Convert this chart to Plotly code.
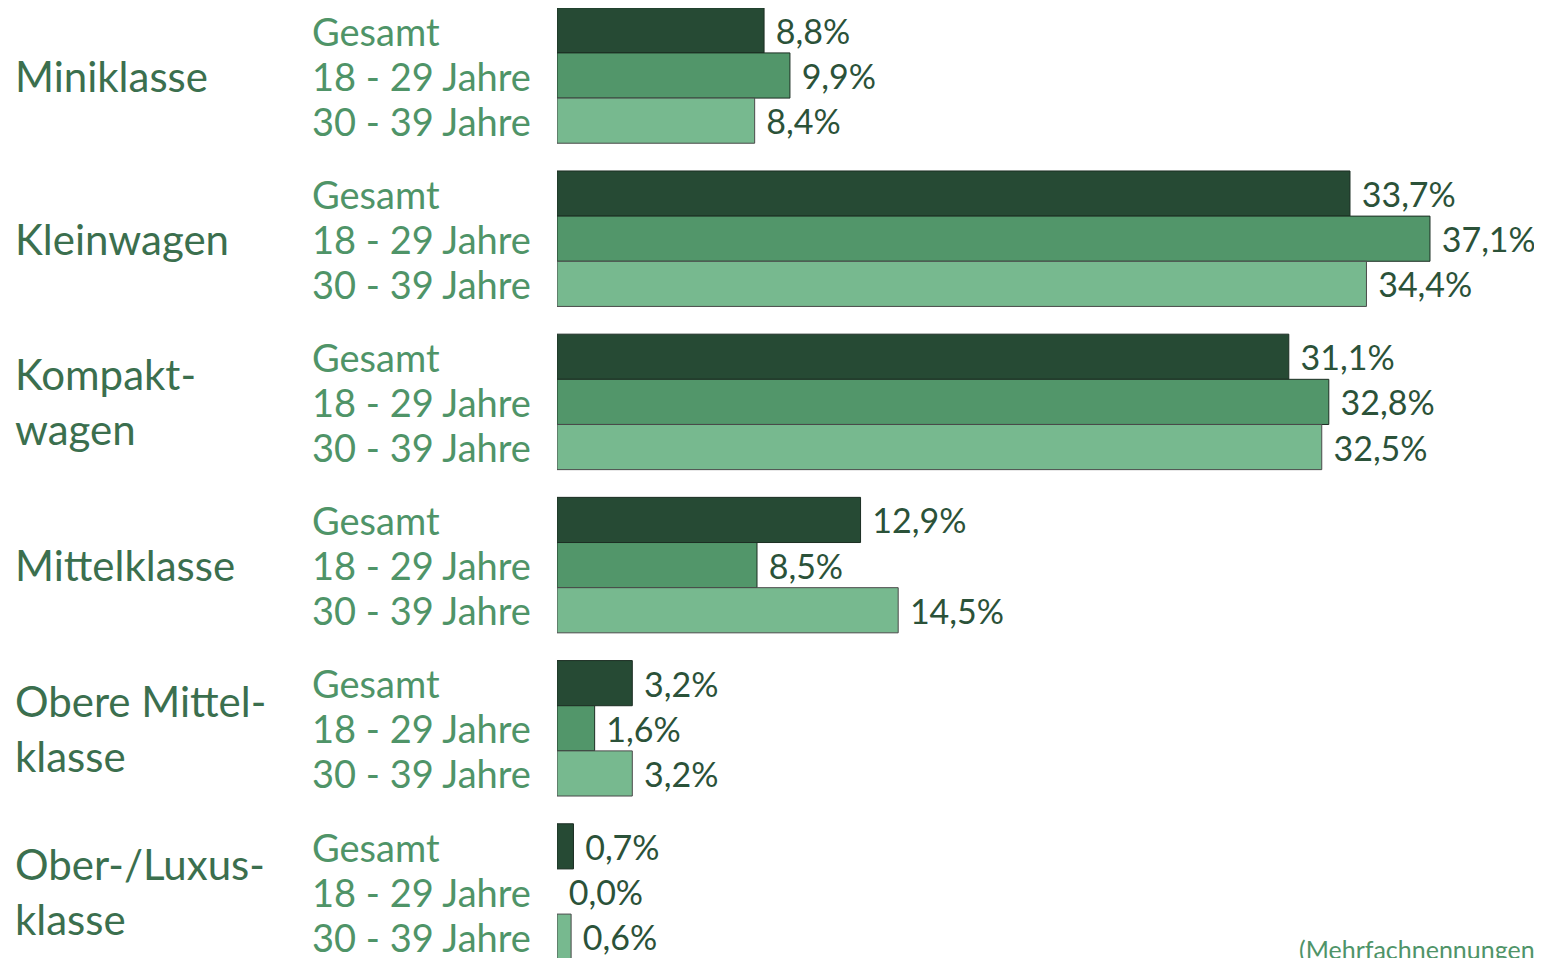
import plotly.graph_objects as go

klassen = ["Miniklasse", "Kleinwagen", "Kompakt-<br>wagen", "Mittelklasse",
           "Obere Mittel-<br>klasse", "Ober-/Luxus-<br>klasse"]
gruppen = ["Gesamt", "18 - 29 Jahre", "30 - 39 Jahre"]
gesamt = [8.8, 33.7, 31.1, 12.9, 3.2, 0.7]
jahre_18_29 = [9.9, 37.1, 32.8, 8.5, 1.6, 0.0]
jahre_30_39 = [8.4, 34.4, 32.5, 14.5, 3.2, 0.6]
hinweis = "(Mehrfachnennungen möglich)"

farben = ["#264a34", "#52966a", "#77b98f"]
linien = ["#1c2e23", "#1c2e23", "#4a4a4a"]
font = "Lato"

W, H = 1542, 958
fig = go.Figure()

for name, werte, farbe, linie in zip(gruppen, [gesamt, jahre_18_29, jahre_30_39], farben, linien):
    fig.add_trace(go.Bar(
        y=klassen, x=werte, orientation="h", name=name,
        marker=dict(color=farbe,
                    line=dict(color=linie, width=[1 if v > 0 else 0 for v in werte])),
        text=["\u00a0" + f"{v:.1f}".replace(".", ",") + "%" for v in werte],
        textposition="outside", cliponaxis=False, constraintext="none",
        textfont=dict(family=font, size=34, color="#2b5239"),
        hoverinfo="skip",
    ))

annotations = []
# Kategorien links (die Seite hat 8px Rand, daher um 8px versetzt)
for k in klassen:
    annotations.append(dict(
        x=5 / W, xref="paper", y=k, yref="y", text=k, showarrow=False,
        xanchor="left", yanchor="middle", align="left",
        font=dict(family=font, size=42, color="#3b6f4e"),
    ))
    # Gruppenlabels
    for i, g in enumerate(gruppen):
        annotations.append(dict(
            x=302 / W, xref="paper", y=k, yref="y", yshift=(1 - i) * 45,
            text=g, showarrow=False, xanchor="left", yanchor="middle",
            font=dict(family=font, size=38, color="#4f9468"),
        ))

annotations.append(dict(
    x=1289 / W, xref="paper", y=0, yref="paper", text=hinweis,
    showarrow=False, xanchor="left", yanchor="bottom",
    font=dict(family=font, size=25, color="#4f9468"),
))

fig.update_layout(
    width=W, height=H,
    margin=dict(l=0, r=0, t=0, b=0),
    paper_bgcolor="white", plot_bgcolor="white",
    barmode="group", bargap=0.17, bargroupgap=0,
    showlegend=False,
    xaxis=dict(domain=[549 / W, 1], range=[0, 42.2], visible=False),
    yaxis=dict(range=[5.4565, -0.4136], visible=False),
    annotations=annotations,
)

fig.write_html("out.html")
